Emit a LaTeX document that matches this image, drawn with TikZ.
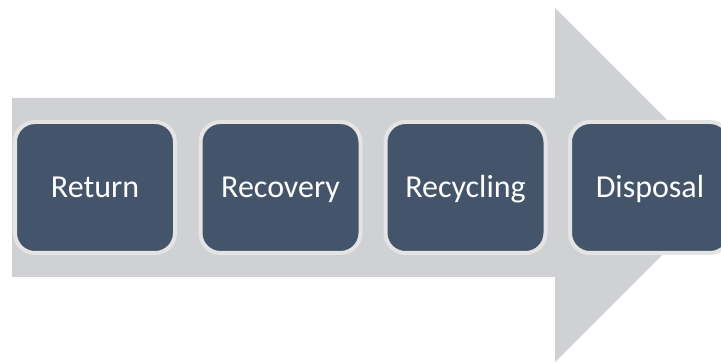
\documentclass[tikz,border=0pt]{standalone}
\usepackage{fontspec}
\setmainfont{Carlito}
\definecolor{arrowgray}{HTML}{D0D1D4}
\definecolor{stagefill}{HTML}{44546A}
\definecolor{stageborder}{HTML}{E4E4E4}
\tikzset{
  stagebox/.style={rectangle, rounded corners=20pt, fill=stagefill, draw=stageborder,
    line width=4pt, minimum width=160pt, minimum height=131pt, text=white,
    font=\fontsize{32}{38}\selectfont, inner sep=0pt, text height=27pt, text depth=7pt}
}
\begin{document}
\begin{tikzpicture}[x=1pt,y=-1pt]
\useasboundingbox (0,0) rectangle (721,363);
\clip (0,0) rectangle (721,363);
\fill[arrowgray] (12,98) -- (555,98) -- (555,8) -- (732,185) -- (555,362) -- (555,277) -- (12,277) -- cycle;
\node[stagebox] (return) at (95,187.5) {Return};
\node[stagebox] (recovery) at (280.5,187.5) {Recovery};
\node[stagebox] (recycling) at (465.5,187.5) {Recycling};
\node[stagebox] (disposal) at (650,187.5) {Disposal};
\end{tikzpicture}
\end{document}
